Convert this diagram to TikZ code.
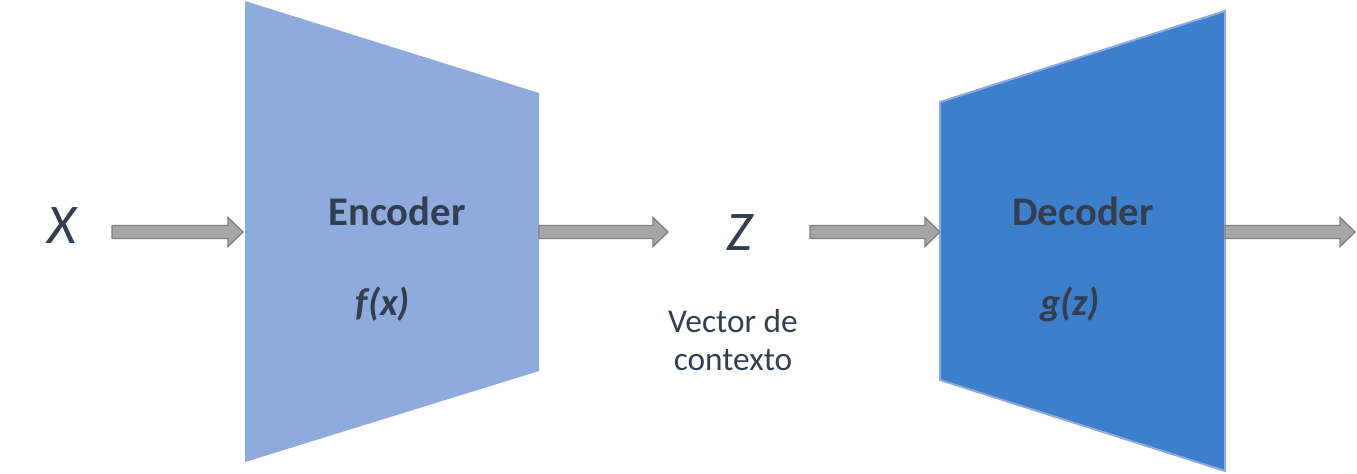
\documentclass[tikz,border=0pt]{standalone}
\usepackage{fontspec}
\setmainfont{Carlito}
\usetikzlibrary{calc}
\definecolor{txt}{HTML}{333F50}
\definecolor{encfill}{HTML}{8FAADC}
\definecolor{decfill}{HTML}{3D7FCA}
\definecolor{decline}{HTML}{8FAADC}
\definecolor{arrfill}{HTML}{A6A6A6}
\definecolor{arrline}{HTML}{7F7F7F}
\tikzset{
  lbl/.style={text=txt, inner sep=0pt, align=center},
  bigvar/.style={lbl, font=\fontsize{42}{48}\selectfont\itshape},
  title/.style={lbl, font=\fontsize{30.5}{36}\selectfont\bfseries},
  func/.style={lbl, font=\fontsize{29}{34}\selectfont\bfseries\itshape},
  note/.style={lbl, font=\fontsize{25}{28.5}\selectfont},
  blockarrow/.style={fill=arrfill, draw=arrline, line width=1pt, line join=miter},
}
\newcommand{\blockarr}[2]{%
  \path[blockarrow] ($(#1)+(0,-6.5)$) -- ($(#2)+(-15,-6.5)$) -- ($(#2)+(-15,-14.5)$)
    -- (#2) -- ($(#2)+(-15,14.5)$) -- ($(#2)+(-15,6.5)$) -- ($(#1)+(0,6.5)$) -- cycle;}
\begin{document}
\begin{tikzpicture}[x=0.75pt,y=-0.75pt]
\useasboundingbox (0,0) rectangle (1357,474);
% shapes
\fill[encfill] (245,1) -- (539,93) -- (539,371) -- (245,462) -- cycle;
\filldraw[fill=decfill, draw=decline, line width=1.5pt] (940,102) -- (1225,11) -- (1225,471) -- (940,380) -- cycle;
% coordinates for connectors
\coordinate (xout) at (112,232);
\coordinate (encin) at (243,232);
\coordinate (encout) at (539,232);
\coordinate (zin) at (668,232);
\coordinate (zout) at (810,232);
\coordinate (decin) at (940,232);
\coordinate (decout) at (1225,232);
\coordinate (yout) at (1355,232);
% labels
\node[bigvar] (x) at (62,226) {X};
\node[title] (enc) at (397,211) {Encoder};
\node[func] (f) at (383,304) {f(x)};
\node[bigvar] (z) at (740,233) {Z};
\node[note] (vec) at (733,340) {Vector de\\contexto};
\node[title] (dec) at (1083,211) {Decoder};
\node[func] (g) at (1070,304) {g(z)};
% arrows
\blockarr{xout}{encin}
\blockarr{encout}{zin}
\blockarr{zout}{decin}
\blockarr{decout}{yout}
\end{tikzpicture}
\end{document}
